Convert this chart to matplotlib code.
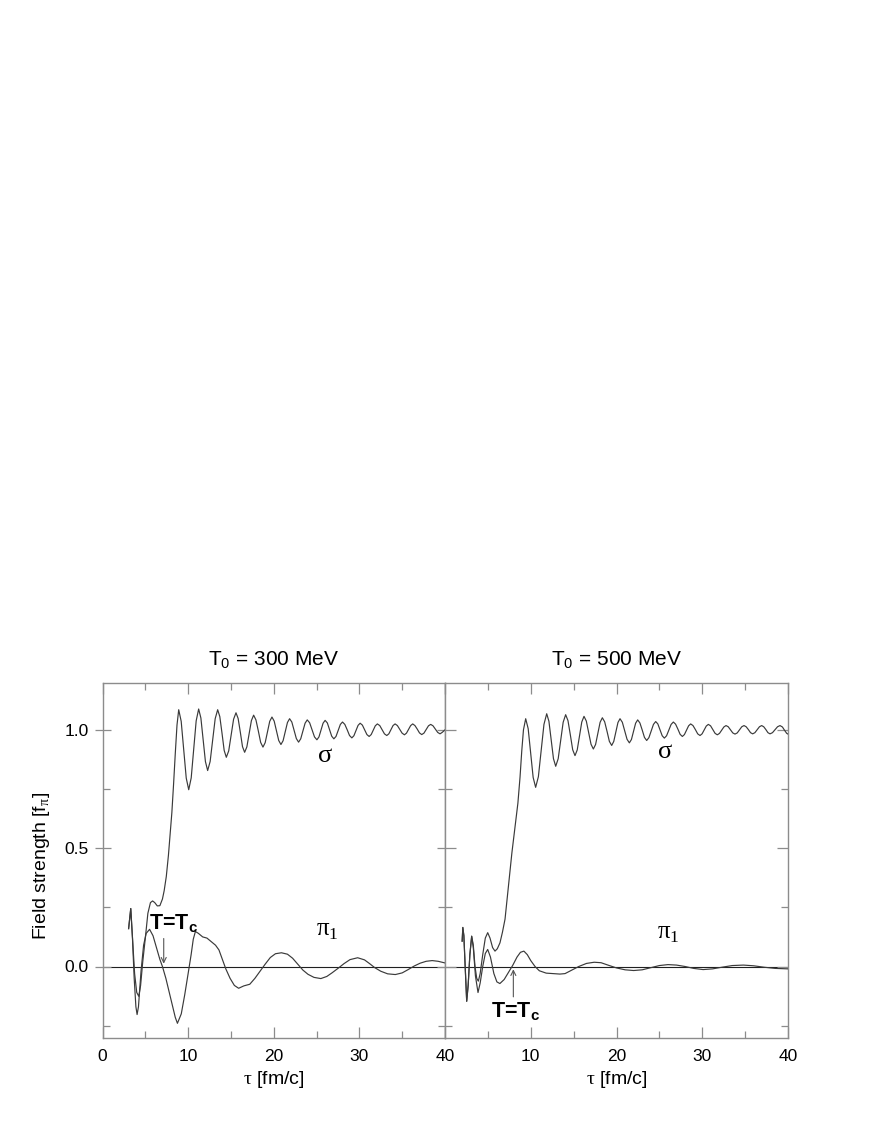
import matplotlib
matplotlib.use("Agg")
import matplotlib.pyplot as plt
import numpy as np

plt.rcParams['font.family'] = ['Liberation Sans', 'DejaVu Sans']
plt.rcParams['mathtext.fontset'] = 'custom'
plt.rcParams['mathtext.rm'] = 'Liberation Serif'
plt.rcParams['mathtext.sf'] = 'Liberation Sans'
plt.rcParams['mathtext.bf'] = 'Liberation Sans:bold'

# ---------------- data (tau [fm/c], field [f_pi]) ----------------
sigma_300 = [
    (3.05, 0.16), (3.3, 0.245), (3.5, 0.12), (3.75, -0.03), (4.0, -0.11), (4.24, -0.126),
    (4.45, -0.08), (4.7, 0.02), (5.0, 0.12), (5.3, 0.225), (5.6, 0.27), (5.85, 0.277),
    (6.1, 0.27), (6.4, 0.256), (6.7, 0.257), (7.0, 0.285), (7.2, 0.32), (7.45, 0.38),
    (7.7, 0.47), (7.9, 0.56), (8.1, 0.65), (8.3, 0.77), (8.5, 0.90), (8.7, 1.02), (8.9, 1.085),
    (9.19, 1.036), (9.49, 0.916), (9.78, 0.796), (10.07, 0.747), (10.36, 0.797), (10.65, 0.918),
    (10.94, 1.038), (11.23, 1.088), (11.49, 1.050), (11.76, 0.958), (12.02, 0.866), (12.28, 0.828),
    (12.57, 0.866), (12.87, 0.957), (13.16, 1.047), (13.45, 1.085), (13.70, 1.056), (13.96, 0.985),
    (14.21, 0.913), (14.46, 0.884), (14.74, 0.911), (15.03, 0.978), (15.31, 1.045), (15.59, 1.072),
    (15.84, 1.048), (16.10, 0.989), (16.35, 0.929), (16.60, 0.905), (16.86, 0.928), (17.13, 0.984),
    (17.39, 1.039), (17.65, 1.062), (17.92, 1.042), (18.20, 0.995), (18.47, 0.947), (18.74, 0.927),
    (19.00, 0.946), (19.27, 0.991), (19.53, 1.036), (19.79, 1.054), (20.05, 1.037), (20.32, 0.996),
    (20.58, 0.955), (20.84, 0.938), (21.09, 0.954), (21.35, 0.993), (21.60, 1.031), (21.85, 1.047),
    (22.11, 1.033), (22.38, 0.998), (22.64, 0.963), (22.90, 0.948), (23.15, 0.962), (23.41, 0.995),
    (23.66, 1.028), (23.91, 1.042), (24.19, 1.030), (24.48, 1.000), (24.76, 0.970), (25.04, 0.958),
    (25.28, 0.970), (25.52, 0.999), (25.76, 1.028), (26.00, 1.040), (26.26, 1.029), (26.51, 1.001),
    (26.77, 0.973), (27.02, 0.962), (27.27, 0.972), (27.53, 0.998), (27.78, 1.023), (28.03, 1.033),
    (28.30, 1.023), (28.58, 1.000), (28.85, 0.976), (29.12, 0.966), (29.36, 0.975), (29.61, 0.997),
    (29.85, 1.019), (30.09, 1.028), (30.35, 1.020), (30.62, 1.000), (30.88, 0.980), (31.14, 0.972),
    (31.38, 0.980), (31.62, 0.999), (31.86, 1.017), (32.10, 1.025), (32.38, 1.018), (32.65, 1.001),
    (32.93, 0.983), (33.20, 0.976), (33.44, 0.983), (33.69, 1.001), (33.93, 1.018), (34.17, 1.025),
    (34.44, 1.018), (34.72, 1.002), (34.99, 0.986), (35.26, 0.979), (35.50, 0.986), (35.75, 1.002),
    (35.99, 1.018), (36.23, 1.025), (36.49, 1.018), (36.76, 1.003), (37.02, 0.987), (37.28, 0.980),
    (37.54, 0.986), (37.81, 1.002), (38.07, 1.017), (38.33, 1.023), (38.60, 1.017), (38.88, 1.003),
    (39.15, 0.989), (39.42, 0.983), (39.7, 0.99), (40.0, 1.0),
]

pi_300 = [
    (3.05, 0.16), (3.3, 0.245), (3.5, 0.12), (3.7, -0.05), (3.9, -0.17), (4.04, -0.203),
    (4.2, -0.17), (4.5, -0.02), (4.8, 0.09), (5.1, 0.14), (5.5, 0.157), (5.9, 0.13),
    (6.3, 0.08), (6.7, 0.03), (7.0, 0.0), (7.4, -0.05), (7.8, -0.11), (8.2, -0.17),
    (8.5, -0.215), (8.75, -0.24), (9.2, -0.20), (9.6, -0.12), (10.0, -0.03), (10.35, 0.05),
    (10.6, 0.115), (10.85, 0.148), (11.2, 0.14), (11.7, 0.125), (12.2, 0.12), (12.7, 0.105),
    (13.2, 0.09), (13.6, 0.07), (14.0, 0.03), (14.4, -0.01), (14.9, -0.05), (15.4, -0.08),
    (15.9, -0.092), (16.5, -0.082), (17.2, -0.075), (17.8, -0.05), (18.4, -0.02), (19.0, 0.01),
    (19.6, 0.038), (20.2, 0.054), (20.9, 0.058), (21.6, 0.052), (22.2, 0.035), (22.8, 0.01),
    (23.4, -0.015), (24.0, -0.033), (24.7, -0.046), (25.5, -0.051), (26.2, -0.042), (26.8, -0.027),
    (27.5, -0.008), (28.2, 0.012), (28.9, 0.029), (29.8, 0.037), (30.6, 0.028), (31.2, 0.012),
    (31.8, -0.005), (32.5, -0.02), (33.3, -0.031), (34.2, -0.034), (35.0, -0.027), (35.7, -0.013),
    (36.4, 0.002), (37.1, 0.014), (37.8, 0.022), (38.5, 0.025), (39.2, 0.022), (40.0, 0.015),
]

sigma_500 = [
    (2.0, 0.107), (2.08, 0.165), (2.2, 0.13), (2.35, 0.0), (2.53, -0.147), (2.7, -0.08),
    (2.9, 0.05), (3.11, 0.128), (3.3, 0.09), (3.5, 0.0), (3.7, -0.05), (3.89, -0.062),
    (4.1, -0.03), (4.4, 0.05), (4.7, 0.12), (4.98, 0.143), (5.25, 0.12), (5.55, 0.08),
    (5.83, 0.065), (6.1, 0.075), (6.41, 0.10), (6.7, 0.145), (7.0, 0.20), (7.4, 0.34),
    (7.8, 0.48), (8.2, 0.60), (8.5, 0.69), (8.75, 0.80), (8.95, 0.91), (9.15, 1.0), (9.41, 1.047),
    (9.70, 1.005), (9.99, 0.902), (10.28, 0.799), (10.57, 0.757), (10.89, 0.802), (11.22, 0.913),
    (11.54, 1.023), (11.86, 1.068), (12.12, 1.036), (12.39, 0.957), (12.65, 0.878), (12.91, 0.846),
    (13.20, 0.878), (13.49, 0.955), (13.78, 1.032), (14.07, 1.064), (14.34, 1.039), (14.62, 0.978),
    (14.89, 0.916), (15.16, 0.891), (15.42, 0.915), (15.69, 0.974), (15.95, 1.033), (16.21, 1.057),
    (16.48, 1.037), (16.76, 0.988), (17.03, 0.939), (17.30, 0.919), (17.56, 0.938), (17.83, 0.985),
    (18.09, 1.032), (18.35, 1.051), (18.62, 1.034), (18.90, 0.993), (19.17, 0.951), (19.44, 0.934),
    (19.68, 0.951), (19.93, 0.991), (20.17, 1.031), (20.41, 1.047), (20.68, 1.032), (20.96, 0.996),
    (21.23, 0.960), (21.50, 0.945), (21.74, 0.959), (21.99, 0.994), (22.23, 1.028), (22.47, 1.042),
    (22.73, 1.029), (23.00, 0.999), (23.26, 0.968), (23.52, 0.955), (23.78, 0.967), (24.05, 0.995),
    (24.31, 1.023), (24.57, 1.035), (24.82, 1.025), (25.08, 1.000), (25.33, 0.975), (25.58, 0.965),
    (25.84, 0.975), (26.11, 0.999), (26.37, 1.023), (26.63, 1.033), (26.89, 1.024), (27.16, 1.003),
    (27.42, 0.981), (27.68, 0.972), (27.92, 0.980), (28.17, 0.999), (28.41, 1.017), (28.65, 1.025),
    (28.92, 1.018), (29.20, 1.001), (29.47, 0.983), (29.74, 0.976), (29.98, 0.983), (30.23, 1.000),
    (30.47, 1.016), (30.71, 1.023), (30.97, 1.017), (31.24, 1.001), (31.50, 0.985), (31.76, 0.979),
    (32.01, 0.985), (32.27, 0.999), (32.52, 1.012), (32.77, 1.018), (33.03, 1.013), (33.30, 1.000),
    (33.56, 0.987), (33.82, 0.982), (34.08, 0.987), (34.35, 1.000), (34.61, 1.013), (34.87, 1.018),
    (35.12, 1.013), (35.38, 1.001), (35.63, 0.988), (35.88, 0.983), (36.14, 0.988), (36.41, 1.001),
    (36.67, 1.013), (36.93, 1.018), (37.17, 1.013), (37.42, 1.001), (37.66, 0.988), (37.90, 0.983),
    (38.19, 0.988), (38.49, 1.001), (38.78, 1.013), (39.07, 1.018), (39.35, 1.012), (39.6, 0.998),
    (39.85, 0.985), (40.0, 0.982),
]

pi_500 = [
    (2.0, 0.107), (2.08, 0.165), (2.2, 0.13), (2.35, 0.0), (2.53, -0.147), (2.7, -0.08),
    (2.9, 0.05), (3.11, 0.128), (3.3, 0.08), (3.55, -0.04), (3.85, -0.11), (4.1, -0.07),
    (4.4, 0.0), (4.7, 0.055), (4.98, 0.072), (5.3, 0.04), (5.7, -0.03), (6.05, -0.065),
    (6.4, -0.072), (6.9, -0.055), (7.4, -0.025), (7.9, 0.005), (8.4, 0.04), (8.8, 0.06),
    (9.2, 0.065), (9.6, 0.05), (10.0, 0.025), (10.5, 0.0), (11.0, -0.018), (11.8, -0.028),
    (12.6, -0.03), (13.4, -0.032), (14.0, -0.03), (14.8, -0.015), (15.6, 0.0), (16.5, 0.013),
    (17.4, 0.018), (18.2, 0.016), (19.0, 0.006), (20.0, -0.006), (21.0, -0.014), (22.0, -0.017),
    (23.0, -0.014), (24.0, -0.005), (25.0, 0.004), (26.0, 0.008), (27.0, 0.006), (28.0, 0.0),
    (29.0, -0.008), (30.1, -0.013), (31.2, -0.01), (32.3, -0.003), (33.5, 0.004), (34.8, 0.006),
    (36.0, 0.003), (37.2, -0.003), (38.5, -0.008), (40.0, -0.01),
]

panel_titles = ['300', '500']
x_ticks = [0, 10, 20, 30, 40]
y_ticks = [0.0, 0.5, 1.0]
y_tick_labels = ['0.0', '0.5', '1.0']
tc_tau = [7.15, 7.97]   # where T = T_c is reached

# ---------------- figure ----------------
fig = plt.figure(figsize=(8.72, 11.28), dpi=100)
W, H = 872.0, 1128.0
x0, x_mid, x1 = 102.5, 445.0, 788.0
ytop, ybot = 682.5, 1037.5
axL = fig.add_axes([x0 / W, 1 - ybot / H, (x_mid - x0) / W, (ybot - ytop) / H])
axR = fig.add_axes([x_mid / W, 1 - ybot / H, (x1 - x_mid) / W, (ybot - ytop) / H])

line_c = '#3a3a3a'
spine_c = '#8c8c8c'

def style(ax, left):
    ax.set_xlim(0, 40)
    ax.set_ylim(-0.3, 1.2)
    ax.set_xticks(x_ticks)
    ax.set_xticks([5, 15, 25, 35], minor=True)
    ax.set_yticks(y_ticks)
    ax.set_yticks([-0.25, 0.25, 0.75], minor=True)
    for s in ax.spines.values():
        s.set_color(spine_c)
        s.set_linewidth(1.0)
    ax.tick_params(which='both', direction='in', top=True, right=True,
                   color=spine_c, labelsize=12.5, width=0.9)
    ax.tick_params(which='major', length=8)
    ax.tick_params(which='minor', length=5)
    ax.tick_params(axis='x', pad=8)
    if left:
        ax.set_yticklabels(y_tick_labels)
        ax.tick_params(axis='y', which='major', direction='inout', length=12, pad=4)
    else:
        ax.set_yticklabels([])
        ax.set_xticklabels(['', '10', '20', '30', '40'])
    ax.axhline(0.0, color='#202020', lw=0.8, zorder=1)

for ax, left, sig, pi, T0, tct in [(axL, True, sigma_300, pi_300, panel_titles[0], tc_tau[0]),
                                   (axR, False, sigma_500, pi_500, panel_titles[1], tc_tau[1])]:
    style(ax, left)
    ts, vs = zip(*sig)
    tp, vp = zip(*pi)
    ax.plot(tp, vp, color=line_c, lw=0.85, zorder=3)
    ax.plot(ts, vs, color=line_c, lw=0.85, zorder=3)
    ax.set_title('T$_{\\mathsf{0}}$ = ' + T0 + ' MeV', fontsize=15, pad=12)
    ax.set_xlabel(r'$\mathrm{\tau}$ [fm/c]', fontsize=14, labelpad=4)

axL.set_ylabel(r'Field strength [f$_{\mathrm{\pi}}$]', fontsize=14)
axL.yaxis.set_label_coords(-0.148, 0.483)

# labels of curves
axL.text(26.0, 0.895, r'$\mathrm{\sigma}$', fontsize=19, ha='center', va='center')
axR.text(25.7, 0.91, r'$\mathrm{\sigma}$', fontsize=19, ha='center', va='center')
axL.text(26.3, 0.155, r'$\mathrm{\pi}_{\mathrm{1}}$', fontsize=18, ha='center', va='center')
axR.text(26.1, 0.143, r'$\mathrm{\pi}_{\mathrm{1}}$', fontsize=18, ha='center', va='center')

# T = T_c annotations
axL.annotate('', xy=(tc_tau[0], 0.0), xytext=(tc_tau[0], 0.13),
             arrowprops=dict(arrowstyle='->', color='#555555', lw=0.8, mutation_scale=9))
axL.text(8.3, 0.157, r'T=T$_{\mathbf{c}}$', fontsize=15.5, fontweight='bold',
         ha='center', va='baseline')
axR.annotate('', xy=(tc_tau[1], 0.0), xytext=(tc_tau[1], -0.14),
             arrowprops=dict(arrowstyle='->', color='#555555', lw=0.8, mutation_scale=9))
axR.text(8.2, -0.215, r'T=T$_{\mathbf{c}}$', fontsize=15.5, fontweight='bold',
         ha='center', va='baseline')

fig.savefig('out.png', dpi=100)
